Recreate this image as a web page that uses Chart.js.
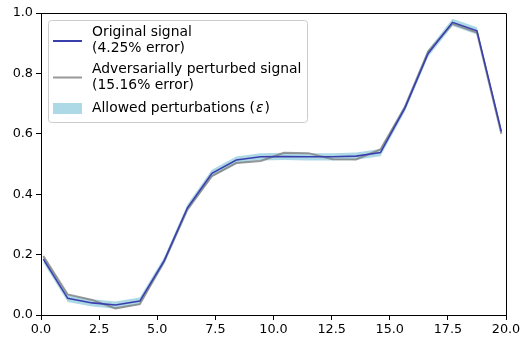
<!DOCTYPE html>
<html>
<head>
<meta charset="utf-8">
<script src="https://cdn.jsdelivr.net/npm/chart.js@4/dist/chart.umd.min.js"></script>
<style>
  html, body { margin: 0; padding: 0; background: #fff; }
  canvas { display: block; }
</style>
</head>
<body>
<canvas id="plot" width="529" height="347"></canvas>
<script>
// sample positions and the two signals
const xs = [0.1, 1.15, 2.2, 3.2, 4.25, 5.3, 6.3, 7.35, 8.4, 9.45,
            10.45, 11.5, 12.55, 13.55, 14.6, 15.65, 16.65, 17.7, 18.75, 19.8];
const original = [0.185, 0.055, 0.040, 0.033, 0.046, 0.180, 0.355, 0.469, 0.513, 0.524,
                  0.525, 0.524, 0.524, 0.526, 0.538, 0.685, 0.866, 0.969, 0.941, 0.607];
const perturbed = [0.195, 0.068, 0.050, 0.022, 0.036, 0.178, 0.350, 0.460, 0.503, 0.510,
                   0.537, 0.536, 0.516, 0.515, 0.548, 0.688, 0.872, 0.964, 0.935, 0.600];
const epsilon = 0.012;
const xTicks = [0, 2.5, 5, 7.5, 10, 12.5, 15, 17.5, 20];
const legendLabels = [
    ["Original signal", "(4.25% error)"],
    ["Adversarially perturbed signal", "(15.16% error)"],
    ["Allowed perturbations (", "\u03b5", ")"]
];

const FONT = '"DejaVu Sans", sans-serif';
const LEGEND_FONT = '13.9px ' + FONT;
const BLUE = '#3b3fae';
const GRAY = 'rgba(128,128,128,0.8)';
const BAND = '#add8e6';

function pts(ys) {
    return xs.map((x, i) => ({x: x, y: ys[i]}));
}
const upper = original.map(v => v + epsilon);
const lower = original.map(v => v - epsilon);

// top + right spines and the legend box
const framePlugin = {
    id: 'frame',
    afterDraw: function (chart) {
        const ctx = chart.ctx;
        const a = chart.chartArea;
        ctx.save();
        ctx.strokeStyle = '#000';
        ctx.lineWidth = 1;
        ctx.beginPath();
        ctx.moveTo(a.left, a.top + 0.5);
        ctx.lineTo(a.right + 0.5, a.top + 0.5);
        ctx.lineTo(a.right + 0.5, a.bottom);
        ctx.stroke();

        // legend
        const bx = a.left + 7.5, by = a.top + 7.5, bw = 259, bh = 102;
        ctx.beginPath();
        ctx.roundRect(bx, by, bw, bh, 3);
        ctx.fillStyle = 'rgba(255,255,255,0.8)';
        ctx.fill();
        ctx.strokeStyle = '#cccccc';
        ctx.stroke();

        ctx.font = LEGEND_FONT;
        ctx.fillStyle = '#000';
        ctx.textBaseline = 'middle';
        const tx = a.left + 51;
        const sx0 = a.left + 12, sx1 = a.left + 41;

        ctx.lineWidth = 2;
        ctx.strokeStyle = BLUE;
        ctx.beginPath(); ctx.moveTo(sx0, a.top + 28); ctx.lineTo(sx1, a.top + 28); ctx.stroke();
        ctx.fillText(legendLabels[0][0], tx, a.top + 19);
        ctx.fillText(legendLabels[0][1], tx, a.top + 35.5);

        ctx.strokeStyle = GRAY;
        ctx.beginPath(); ctx.moveTo(sx0, a.top + 64.5); ctx.lineTo(sx1, a.top + 64.5); ctx.stroke();
        ctx.fillText(legendLabels[1][0], tx, a.top + 56);
        ctx.fillText(legendLabels[1][1], tx, a.top + 72.5);

        ctx.fillStyle = BAND;
        ctx.fillRect(sx0, a.top + 90, sx1 - sx0, 11);
        ctx.fillStyle = '#000';
        let x = tx;
        ctx.fillText(legendLabels[2][0], x, a.top + 95);
        x += ctx.measureText(legendLabels[2][0]).width;
        ctx.font = 'italic ' + LEGEND_FONT;
        ctx.fillText(legendLabels[2][1], x + 1, a.top + 95);
        x += ctx.measureText(legendLabels[2][1]).width + 2;
        ctx.font = LEGEND_FONT;
        ctx.fillText(legendLabels[2][2], x, a.top + 95);
        ctx.restore();
    }
};

const tickFont = {family: FONT, size: 12.8};

new Chart(document.getElementById('plot').getContext('2d'), {
    type: 'line',
    data: {
        datasets: [
            {label: 'upper', data: pts(upper), borderWidth: 0, pointRadius: 0,
             backgroundColor: BAND, fill: false, order: 3},
            {label: 'lower', data: pts(lower), borderWidth: 0, pointRadius: 0,
             backgroundColor: BAND, fill: '-1', order: 2},
            {label: 'perturbed', data: pts(perturbed), borderColor: GRAY, borderWidth: 2,
             pointRadius: 0, fill: false, order: 1},
            {label: 'original', data: pts(original), borderColor: BLUE, borderWidth: 1.6,
             pointRadius: 0, fill: false, order: 0}
        ]
    },
    options: {
        responsive: false,
        animation: false,
        layout: {padding: {left: 0, top: 13, right: 23, bottom: 0}},
        plugins: {legend: {display: false}, tooltip: {enabled: false}},
        elements: {line: {tension: 0}},
        scales: {
            x: {
                type: 'linear', min: 0, max: 20,
                afterBuildTicks: function (s) { s.ticks = xTicks.map(v => ({value: v})); },
                afterFit: function (s) { s.height = 32; },
                ticks: {color: '#000', font: tickFont, padding: 2, maxRotation: 0,
                        callback: v => v.toFixed(1)},
                grid: {drawOnChartArea: false, color: '#000', tickLength: 5},
                border: {color: '#000', width: 1}
            },
            y: {
                min: 0, max: 1,
                afterFit: function (s) { s.width = 41; },
                ticks: {color: '#000', font: tickFont, padding: 3, stepSize: 0.2,
                        callback: v => v.toFixed(1)},
                grid: {drawOnChartArea: false, color: '#000', tickLength: 5},
                border: {color: '#000', width: 1}
            }
        }
    },
    plugins: [framePlugin]
});
</script>
</body>
</html>
